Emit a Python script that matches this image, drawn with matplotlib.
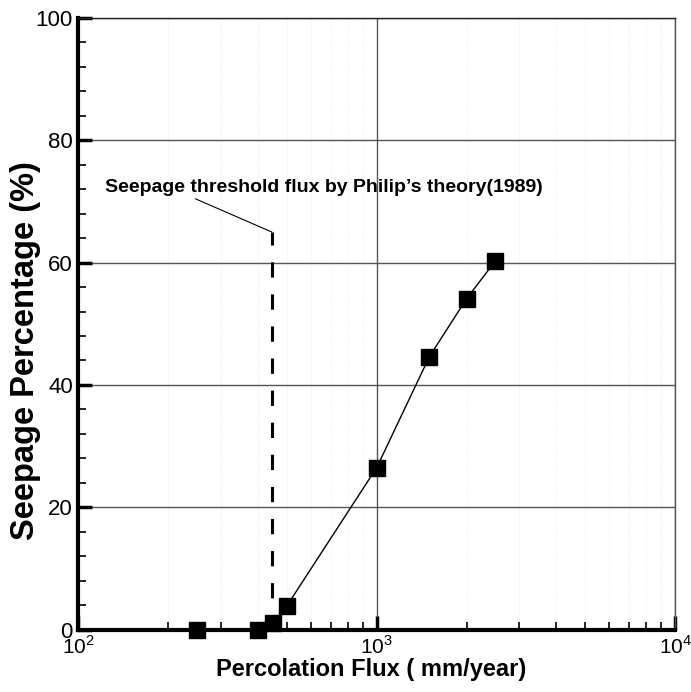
import matplotlib
matplotlib.use("Agg")
import matplotlib.pyplot as plt
from matplotlib.ticker import LogLocator, MultipleLocator, NullFormatter, FixedLocator

plt.rcParams['font.family'] = ['Liberation Sans', 'DejaVu Sans']
plt.rcParams['mathtext.fontset'] = 'custom'
plt.rcParams['mathtext.rm'] = 'Liberation Sans'

flux = [250, 400, 450, 500, 1000, 1500, 2000, 2500]
seepage = [0.0, 0.0, 1.1, 3.9, 26.5, 44.6, 54.1, 60.3]

threshold_flux = 445
threshold_top = 65
annotation = "Seepage threshold flux by Philip\u2019s theory(1989)"

fig = plt.figure(figsize=(6.91, 6.92), dpi=100)
ax = fig.add_axes([0.1135, 0.0902, 0.8635, 0.8838])

ax.set_xscale('log')
ax.set_xlim(100, 10000)
ax.set_ylim(0, 100)

ax.xaxis.set_major_locator(FixedLocator([100, 1000, 10000]))
ax.xaxis.set_minor_locator(LogLocator(base=10, subs=range(2, 10)))
ax.xaxis.set_minor_formatter(NullFormatter())
ax.set_xticklabels([r'$10^2$', r'$10^3$', r'$10^4$'])
ax.yaxis.set_major_locator(MultipleLocator(20))
ax.yaxis.set_minor_locator(MultipleLocator(4))

ax.grid(which='major', color='#555555', linewidth=1.0)
ax.grid(which='minor', axis='x', color='#e6e6e6', linewidth=0.6, linestyle=':')
ax.set_axisbelow(True)

ax.tick_params(which='major', direction='in', length=10, width=2.5, pad=4,
               top=False, right=False)
ax.tick_params(axis='y', which='major', labelsize=16)
ax.tick_params(axis='x', which='major', labelsize=15)
ax.tick_params(which='minor', direction='in', length=6, width=1.2, top=False, right=False)

for s in ['left', 'bottom']:
    ax.spines[s].set_linewidth(3)
    ax.spines[s].set_color('black')
for s in ['top', 'right']:
    ax.spines[s].set_linewidth(1.0)
    ax.spines[s].set_color('#555555')
ax.spines['top'].set_color('#222222')

ax.plot(flux, seepage, color='black', linewidth=1.0, marker='s', markersize=11,
        markerfacecolor='black', markeredgecolor='black', zorder=5, clip_on=False)

ax.plot([threshold_flux, threshold_flux], [0, threshold_top], color='black',
        linewidth=2.2, linestyle=(0, (5, 5.5)), zorder=4)

ax.annotate(annotation, xy=(threshold_flux, threshold_top), xytext=(122.8, 70.9),
            textcoords='data', fontsize=14, fontweight='bold', ha='left', va='bottom',
            arrowprops=dict(arrowstyle='-', color='black', linewidth=0.8,
                            shrinkA=0, shrinkB=0, relpos=(0.205, -0.15)))

ax.set_xlabel('Percolation Flux ( mm/year)', fontsize=17, fontweight='bold', va='center')
ax.xaxis.set_label_coords(0.491, -0.066)
ax.set_ylabel('Seepage Percentage (%)', fontsize=23.5, fontweight='bold', va='center')
ax.yaxis.set_label_coords(-0.0895, 0.457)

fig.savefig('out.png', dpi=100)
